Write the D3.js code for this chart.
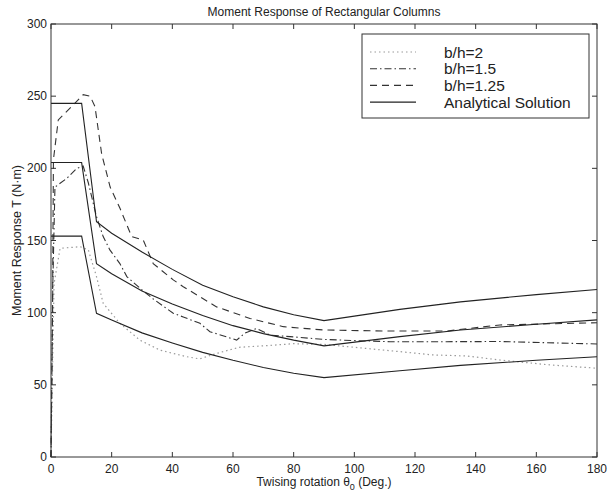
<!DOCTYPE html>
<html>
<head>
<meta charset="utf-8">
<script src="https://cdn.jsdelivr.net/npm/d3@7"></script>
<style>
  body { margin: 0; background: #fff; }
  text { font-family: "Liberation Sans", Arial, sans-serif; fill: #222; }
</style>
</head>
<body>
<div id="vis"></div>
<script>
// twisting rotation (deg) vs moment response (N-m)
let ratio2X = [0, 1, 3, 9.6, 12.3, 15, 17.2, 22.7, 29.3, 36, 44.7, 49, 55, 62, 70, 80, 90, 100, 115, 126, 137, 148, 164.5, 180];
let ratio2Y = [0, 120, 144.6, 145.7, 143.5, 125, 106.5, 92.6, 81, 74, 69.5, 68, 72, 76, 77, 78.5, 78, 76, 73, 70.7, 70, 67.2, 63.8, 61.5];

let ratio15X = [0, 0.6, 1.3, 5.2, 8.5, 10.6, 12.3, 15, 17.2, 19.4, 22.7, 25, 29.3, 33.7, 40.3, 43.6, 49.1, 52.4, 61.2, 64, 67.8, 72.2, 78.8, 89.8, 100.8, 111.8, 130.5, 148, 180];
let ratio15Y = [0, 120, 187, 193, 200, 201.6, 190, 166.5, 152.7, 143.5, 134, 125, 117, 109.5, 99.6, 97, 92.6, 86.8, 81, 86, 89, 84.5, 83.4, 81.5, 80.6, 79.9, 79.9, 80, 78.3];

let ratio125X = [0, 0.5, 0.8, 2.4, 6.8, 10.6, 12.9, 14.5, 16.7, 19.5, 22.7, 26.6, 30.4, 33.7, 40.3, 43.6, 49.1, 54.6, 65.6, 76.6, 89.8, 109.6, 130.5, 148, 180];
let ratio125Y = [0, 100, 206, 233.5, 242.8, 251, 250, 242.8, 210, 187, 172.5, 152.7, 150.4, 134, 122.7, 118, 111, 104, 96, 90.3, 88, 87.3, 87.3, 91.5, 93];

// analytical solution, one curve per ratio
let anaX = [0, 10.1, 15, 20, 30, 40, 50, 60, 70, 80, 90, 115, 135, 160, 180];
let anaTop = [245, 245, 163, 155, 142, 130, 119, 111, 104, 98.5, 94.5, 102.3, 107.5, 112.5, 116];
let anaMid = [204, 204, 134, 127, 115, 106, 98, 91, 85.5, 81, 77, 83.4, 88, 92, 95];
let anaBot = [153, 153, 99.6, 95, 86, 79, 72.5, 67, 62, 58, 55, 59.8, 63.5, 67, 69.5];

let legendLabels = ['b/h=2', 'b/h=1.5', 'b/h=1.25', 'Analytical Solution'];
let xTicks = [0, 20, 40, 60, 80, 100, 120, 140, 160, 180];
let yTicks = [0, 50, 100, 150, 200, 250, 300];

let width = 609, height = 495;
let margin = {top: 24, left: 51, right: 12, bottom: 38};

let svg = d3.select('#vis')
  .append('svg')
  .attr('width', width)
  .attr('height', height);

let xScale = d3.scaleLinear()
  .domain([0, 180])
  .range([margin.left, width - margin.right]);

let yScale = d3.scaleLinear()
  .domain([0, 300])
  .range([height - margin.bottom, margin.top]);

// line styles
let styles = [
  {stroke: '#9a9a9a', dash: '1.5,3', width: 1.2},
  {stroke: '#333', dash: '7,3,1.5,3', width: 1.1},
  {stroke: '#333', dash: '7,5', width: 1.1},
  {stroke: '#222', dash: null, width: 1.1}
];

let line = d3.line()
  .x(d => xScale(d[0]))
  .y(d => yScale(d[1]));

function zip(xs, ys) {
  let pts = [];
  for (let i = 0; i < xs.length; i++) pts.push([xs[i], ys[i]]);
  return pts;
}

let series = [
  {pts: zip(ratio2X, ratio2Y), s: styles[0]},
  {pts: zip(ratio15X, ratio15Y), s: styles[1]},
  {pts: zip(ratio125X, ratio125Y), s: styles[2]},
  {pts: zip(anaX, anaTop), s: styles[3]},
  {pts: zip(anaX, anaMid), s: styles[3]},
  {pts: zip(anaX, anaBot), s: styles[3]}
];

series.forEach(function(d) {
  svg.append('path')
    .attr('d', line(d.pts))
    .attr('fill', 'none')
    .attr('stroke', d.s.stroke)
    .attr('stroke-width', d.s.width)
    .attr('stroke-dasharray', d.s.dash);
});

// axes, ticks pointing inward on all four sides
let x0 = xScale(0), x1 = xScale(180), y0 = yScale(0), y1 = yScale(300);
let axisG = svg.append('g').attr('stroke', '#333').attr('stroke-width', 1);

axisG.append('rect')
  .attr('x', x0).attr('y', y1)
  .attr('width', x1 - x0).attr('height', y0 - y1)
  .attr('fill', 'none');

xTicks.forEach(function(t) {
  axisG.append('line').attr('x1', xScale(t)).attr('x2', xScale(t)).attr('y1', y0).attr('y2', y0 - 5);
  axisG.append('line').attr('x1', xScale(t)).attr('x2', xScale(t)).attr('y1', y1).attr('y2', y1 + 5);
  svg.append('text')
    .attr('x', xScale(t)).attr('y', y0 + 16)
    .attr('text-anchor', 'middle')
    .style('font-size', '12px')
    .text(t);
});

yTicks.forEach(function(t) {
  axisG.append('line').attr('x1', x0).attr('x2', x0 + 5).attr('y1', yScale(t)).attr('y2', yScale(t));
  axisG.append('line').attr('x1', x1).attr('x2', x1 - 5).attr('y1', yScale(t)).attr('y2', yScale(t));
  svg.append('text')
    .attr('x', x0 - 4).attr('y', yScale(t) + 4)
    .attr('text-anchor', 'end')
    .style('font-size', '12px')
    .text(t);
});

// title and axis labels
svg.append('text')
  .attr('x', (x0 + x1) / 2).attr('y', 16)
  .attr('text-anchor', 'middle')
  .style('font-size', '12px')
  .text('Moment Response of Rectangular Columns');

let xLab = svg.append('text')
  .attr('x', (x0 + x1) / 2).attr('y', y0 + 29)
  .attr('text-anchor', 'middle')
  .style('font-size', '12px');
xLab.append('tspan').text('Twising rotation \u03B8');
xLab.append('tspan').attr('dy', 4).style('font-size', '9px').text('0');
xLab.append('tspan').attr('dy', -4).text(' (Deg.)');

svg.append('text')
  .attr('transform', 'translate(21,' + ((y0 + y1) / 2) + ') rotate(-90)')
  .attr('text-anchor', 'middle')
  .style('font-size', '12.5px')
  .text('Moment Response T (N\u00B7m)');

// legend
let legend = svg.append('g');
legend.append('rect')
  .attr('x', 362).attr('y', 34)
  .attr('width', 227).attr('height', 84)
  .attr('fill', '#fff')
  .attr('stroke', '#333');

legendLabels.forEach(function(lab, i) {
  let ly = 52 + i * 16.7;
  legend.append('line')
    .attr('x1', 370).attr('x2', 416)
    .attr('y1', ly).attr('y2', ly)
    .attr('stroke', styles[i].stroke)
    .attr('stroke-width', styles[i].width)
    .attr('stroke-dasharray', styles[i].dash);
  legend.append('text')
    .attr('x', 444).attr('y', ly + 5.5)
    .style('font-size', '15.5px')
    .text(lab);
});
</script>
</body>
</html>
